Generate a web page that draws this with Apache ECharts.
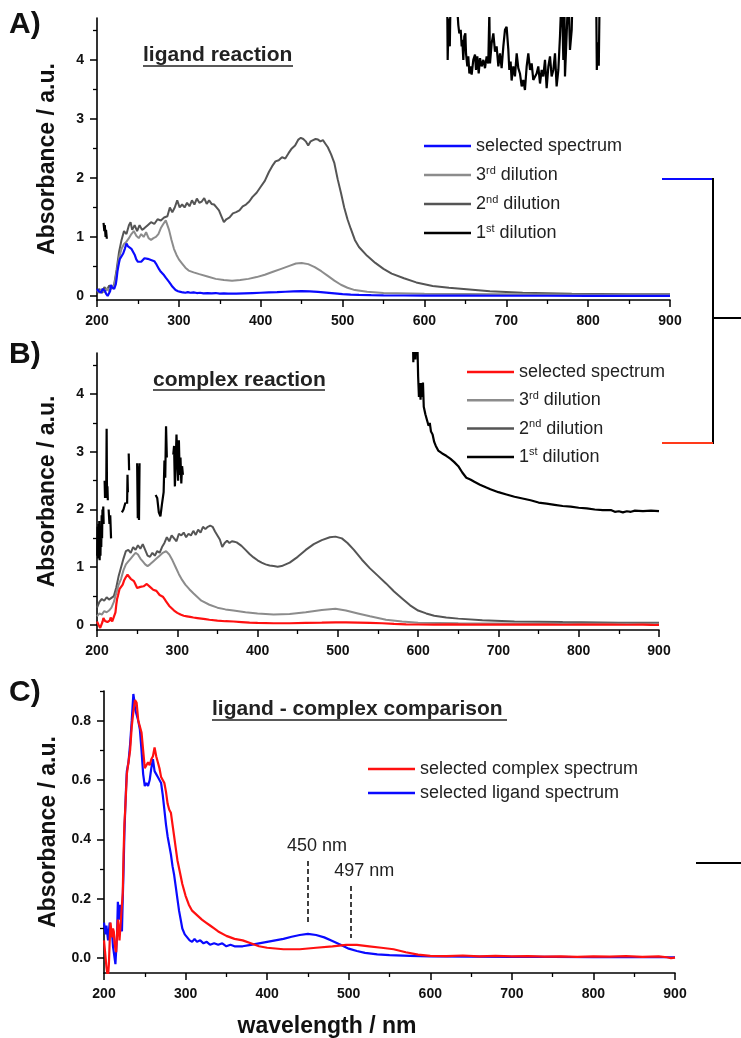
<!DOCTYPE html>
<html><head><meta charset="utf-8">
<script src="https://cdn.jsdelivr.net/npm/echarts@6/dist/echarts.min.js"></script>
<style>html,body{margin:0;padding:0;background:#fff}#c{width:741px;height:1038px}</style>
</head><body><div id="c"></div>
<script>
const FONT = '"Liberation Sans", Arial, Helvetica, sans-serif';

// ---------- data: [wavelength nm, absorbance] ----------
const ligandSel = [[200,0.12],[202,0.08],[203,0.11],[205,0.06],[207,0.12],[208,0.09],[210,0.08],[211,0.04],[213,0.0],[214,-0.02],[215,0.03],[216,0.08],[217,0.19],[218,0.15],[219,0.13],[220,0.18],[221,0.12],[222,0.09],[223,0.2],[224,0.3],[225,0.42],[226,0.5],[227,0.57],[228,0.63],[230,0.66],[232,0.72],[234,0.8],[236,0.89],[237,0.87],[238,0.84],[240,0.84],[242,0.8],[244,0.77],[246,0.7],[248,0.62],[250,0.58],[252,0.59],[254,0.58],[256,0.6],[258,0.64],[260,0.67],[262,0.63],[264,0.62],[266,0.61],[268,0.6],[270,0.59],[272,0.55],[274,0.5],[276,0.45],[278,0.41],[280,0.38],[282,0.35],[284,0.31],[286,0.28],[288,0.24],[290,0.2],[292,0.16],[294,0.13],[296,0.1],[299,0.08],[302,0.07],[305,0.06],[308,0.055],[311,0.065],[314,0.055],[318,0.06],[322,0.05],[326,0.055],[330,0.045],[335,0.05],[340,0.045],[345,0.05],[350,0.04],[355,0.045],[360,0.04],[370,0.04],[380,0.045],[390,0.05],[400,0.055],[410,0.06],[420,0.065],[430,0.072],[440,0.078],[450,0.082],[460,0.078],[470,0.07],[480,0.058],[490,0.045],[500,0.032],[510,0.024],[520,0.018],[535,0.013],[550,0.01],[575,0.008],[600,0.006],[650,0.005],[700,0.004],[750,0.004],[800,0.003],[850,0.003],[900,0.003]];

const complexSel = [[200,0.06],[202,0.0],[203,-0.03],[204,-0.05],[205,-0.06],[206,-0.02],[207,0.06],[208,0.12],[209,0.09],[210,0.07],[211,0.1],[212,0.09],[213,0.05],[214,0.03],[215,0.02],[216,0.08],[217,0.13],[218,0.1],[219,0.06],[220,0.1],[221,0.14],[222,0.18],[223,0.22],[224,0.35],[225,0.45],[226,0.5],[228,0.62],[230,0.66],[232,0.7],[234,0.78],[236,0.83],[238,0.87],[240,0.86],[242,0.8],[244,0.78],[246,0.76],[248,0.7],[250,0.64],[252,0.65],[254,0.66],[256,0.65],[258,0.67],[260,0.68],[262,0.71],[264,0.68],[266,0.66],[268,0.64],[270,0.61],[272,0.6],[274,0.59],[276,0.56],[278,0.52],[280,0.5],[282,0.49],[284,0.45],[286,0.41],[288,0.37],[290,0.33],[293,0.29],[296,0.25],[300,0.21],[304,0.18],[308,0.16],[312,0.15],[316,0.14],[320,0.13],[325,0.12],[330,0.11],[335,0.1],[340,0.09],[350,0.075],[360,0.065],[370,0.06],[380,0.05],[390,0.04],[400,0.035],[420,0.03],[440,0.03],[460,0.035],[480,0.04],[497,0.045],[510,0.045],[525,0.04],[540,0.035],[555,0.03],[570,0.02],[585,0.012],[600,0.008],[620,0.007],[640,0.009],[660,0.006],[680,0.008],[700,0.006],[720,0.007],[740,0.005],[760,0.006],[780,0.004],[800,0.006],[820,0.005],[840,0.007],[860,0.004],[880,0.006],[890,0.003],[895,0.0],[900,0.002]];

const ligand3rd = [[200,0.1],[203,0.05],[206,0.12],[209,0.06],[212,0.13],[215,0.08],[218,0.15],[221,0.18],[224,0.4],[227,0.65],[230,0.8],[233,0.88],[236,0.92],[239,0.98],[242,1.05],[245,1.1],[248,1.02],[251,0.98],[254,1.05],[257,1.0],[260,1.08],[263,0.98],[266,0.95],[269,0.98],[272,1.0],[275,1.05],[278,1.15],[281,1.22],[284,1.28],[286,1.25],[288,1.12],[291,0.95],[294,0.8],[297,0.7],[300,0.62],[304,0.55],[308,0.48],[312,0.43],[318,0.4],[325,0.37],[335,0.33],[345,0.29],[355,0.27],[365,0.26],[375,0.27],[385,0.29],[395,0.32],[405,0.36],[415,0.41],[425,0.46],[435,0.51],[443,0.55],[450,0.56],[458,0.54],[466,0.49],[474,0.42],[482,0.34],[490,0.26],[498,0.19],[506,0.14],[515,0.1],[530,0.07],[550,0.05],[600,0.04],[700,0.03],[800,0.02],[900,0.02]];

const ligand2nd = [[200,0.08],[203,0.12],[206,0.05],[209,0.15],[212,0.1],[215,0.18],[218,0.12],[221,0.2],[224,0.45],[227,0.75],[230,0.95],[233,1.1],[236,1.05],[239,1.2],[241,1.25],[243,1.12],[246,1.2],[249,1.1],[252,1.2],[255,1.12],[258,1.15],[262,1.2],[266,1.25],[270,1.22],[274,1.3],[278,1.28],[282,1.33],[286,1.35],[289,1.5],[292,1.42],[295,1.5],[298,1.62],[301,1.5],[304,1.55],[307,1.5],[310,1.58],[313,1.52],[316,1.62],[319,1.55],[322,1.65],[325,1.58],[328,1.6],[331,1.66],[334,1.56],[337,1.62],[340,1.56],[343,1.55],[346,1.5],[349,1.45],[352,1.35],[355,1.25],[358,1.3],[362,1.33],[366,1.4],[370,1.42],[374,1.45],[378,1.52],[382,1.55],[386,1.6],[390,1.68],[395,1.75],[400,1.85],[405,1.95],[410,2.1],[414,2.2],[418,2.28],[422,2.3],[426,2.35],[430,2.33],[434,2.42],[438,2.5],[442,2.55],[446,2.65],[449,2.68],[452,2.66],[455,2.62],[458,2.55],[461,2.62],[464,2.64],[467,2.66],[470,2.65],[473,2.62],[476,2.64],[479,2.58],[482,2.52],[486,2.4],[490,2.25],[494,1.98],[498,1.75],[502,1.5],[506,1.3],[510,1.14],[515,0.95],[520,0.83],[530,0.68],[540,0.56],[550,0.46],[560,0.38],[575,0.3],[590,0.23],[610,0.17],[630,0.14],[655,0.11],[680,0.08],[720,0.055],[780,0.04],[850,0.03],[900,0.03]];

const ligand1st = [[208,1.24],[209,1.1],[209.5,1.2],[210.5,1.0],[211,1.12],[212,0.97],[213,null],
[230,5.6],[400,5.6],[600,5.6],[627.5,5.6],[628.4,4.0],[629.5,4.7],[631,4.23],[632.5,5.6],[636,5.6],
[638.6,5.2],[641.4,4.59],[642.6,4.45],[644.3,4.51],[645.5,4.23],[646.3,4.34],[647.5,4.0],[648.7,4.4],[650,4.45],[650.8,4.11],[652.4,3.89],[653.6,4.06],[654.9,3.77],[656.5,3.89],[657.7,3.75],[659.7,4.0],[661.8,4.09],[663,3.83],[664.6,4.06],[666.3,3.77],[667.9,4.03],[669.9,3.89],[672,4.0],[674,3.86],[676,4.06],[678,3.94],[679.3,4.8],[680.1,3.94],[682.1,4.28],[684.2,4.45],[686.2,4.14],[688.2,4.23],[690.3,3.89],[692.3,4.11],[694.3,3.86],[696.4,4.23],[698.4,4.51],[700.4,4.56],[702.5,4.17],[703.7,3.83],[705.3,3.97],[706.5,3.65],[708.6,3.89],[710.6,3.72],[712.7,4.11],[714.7,3.86],[716.7,3.77],[718.8,3.55],[720.8,3.66],[722.8,3.49],[724.9,3.89],[726.9,4.11],[729,3.83],[731,3.94],[733,3.66],[735.1,3.63],[737.1,3.77],[739.1,3.89],[741.2,3.6],[743.2,3.83],[745.2,3.72],[747.3,4.0],[749.3,3.52],[751.4,3.89],[753.4,4.06],[755.4,3.72],[757.5,3.83],[759.5,4.11],[761.5,3.55],[763.6,3.83],[765.6,4.4],[767.7,5.2],[769.7,4.0],[770.9,5.2],[771.7,3.72],[773.8,4.45],[775.8,5.2],[777.8,4.17],[779.9,4.51],[781.1,5.2],[790,5.6],[809.5,5.6],[810.6,3.83],[811.8,4.3],[813,3.9],[814.5,5.6],[830,5.6],[900,5.6]];

const complex3rd = [[200,0.15],[203,0.2],[206,0.18],[209,0.24],[212,0.22],[215,0.25],[218,0.3],[221,0.4],[224,0.55],[227,0.7],[230,0.8],[233,0.95],[236,1.05],[239,1.1],[242,1.15],[245,1.2],[248,1.25],[251,1.22],[254,1.15],[257,1.1],[260,1.05],[263,1.02],[266,1.05],[270,1.1],[274,1.15],[278,1.2],[282,1.25],[286,1.28],[290,1.22],[294,1.12],[298,1.0],[302,0.88],[306,0.78],[310,0.7],[315,0.62],[320,0.55],[330,0.42],[340,0.35],[350,0.3],[360,0.27],[370,0.25],[385,0.22],[400,0.2],[420,0.18],[440,0.19],[460,0.22],[480,0.26],[497,0.28],[510,0.25],[525,0.2],[540,0.15],[560,0.09],[580,0.06],[600,0.04],[650,0.03],[750,0.02],[900,0.02]];

const complex2nd = [[200,0.3],[203,0.4],[206,0.45],[209,0.42],[212,0.48],[215,0.44],[218,0.47],[221,0.5],[224,0.65],[227,0.85],[230,1.0],[233,1.15],[236,1.28],[239,1.3],[242,1.25],[245,1.35],[248,1.3],[251,1.38],[254,1.32],[257,1.4],[260,1.3],[263,1.2],[266,1.18],[269,1.25],[272,1.2],[275,1.28],[278,1.25],[281,1.35],[284,1.42],[287,1.52],[290,1.45],[293,1.55],[296,1.5],[299,1.45],[302,1.58],[305,1.55],[308,1.6],[311,1.52],[314,1.58],[317,1.55],[320,1.63],[323,1.56],[326,1.65],[329,1.6],[332,1.7],[335,1.66],[338,1.7],[341,1.72],[344,1.7],[347,1.62],[350,1.55],[353,1.48],[356,1.35],[359,1.42],[362,1.46],[365,1.42],[368,1.45],[371,1.44],[374,1.43],[377,1.4],[380,1.37],[385,1.3],[390,1.23],[395,1.17],[400,1.12],[405,1.08],[410,1.05],[415,1.03],[420,1.02],[425,1.01],[430,1.02],[440,1.08],[450,1.18],[460,1.3],[470,1.4],[480,1.47],[490,1.52],[497,1.53],[505,1.5],[512,1.42],[520,1.3],[530,1.13],[540,0.98],[550,0.85],[560,0.72],[570,0.58],[580,0.46],[590,0.34],[600,0.25],[610,0.2],[620,0.16],[635,0.13],[650,0.11],[680,0.08],[720,0.06],[780,0.05],[850,0.04],[900,0.04]];

const complex1st = [[200.3,1.2],[200.8,1.7],[201.3,1.15],[201.8,1.75],[202.3,1.3],[202.8,1.8],[203.3,1.12],[203.8,1.6],[204.3,1.2],[204.8,1.7],[205.3,1.35],[205.8,1.9],[206.3,1.5],[206.8,2.0],[207.3,1.8],[207.8,2.05],[208.3,1.75],[208.8,null],
[209.5,2.5],[210,2.2],[210.5,2.45],[211,2.2],[211.5,2.3],[212,3.4],[212.5,2.2],[213,2.4],[213.5,2.16],[214,null],
[214.5,2.0],[215.5,1.75],[216.5,1.9],[217.5,1.5],[218,null],
[231,1.95],[233,2.0],[235,2.1],[236,2.12],[237,null],[237.5,2.1],[238,2.6],[238.5,2.3],[239,null],[239.5,2.97],[240,2.68],[240.5,null],
[250,2.8],[250.8,1.85],[251.5,2.75],[252.3,1.82],[253,2.8],[253.5,null],
[273,2.25],[275,2.2],[277,1.95],[279,1.88],[281,2.1],[283,2.3],[284,2.85],[285,2.55],[286,3.44],[287,2.9],[287.5,null],
[295,2.95],[296,3.1],[297,2.4],[298,2.8],[299,3.3],[300,2.9],[301,2.5],[302,3.2],[303,2.6],[304,2.9],[305,2.45],[306,2.75],[307,2.6],[308,null],
[593,5.5],[594,4.55],[595.5,5.5],[596.5,4.6],[598,5.5],[599.5,4.6],[600,4.3],[601,3.95],[602,4.19],[603,3.9],[604,4.19],[605,3.95],[606,4.2],[607,3.78],[609,3.65],[611,3.55],[613,3.45],[614.5,3.5],[616,3.35],[618,3.3],[620,3.17],[622,3.1],[625,3.02],[630,2.97],[635,2.93],[640,2.88],[645,2.82],[650,2.75],[655,2.64],[660,2.55],[665,2.52],[670,2.48],[677,2.43],[685,2.38],[690,2.35],[700,2.3],[710,2.26],[720,2.22],[730,2.19],[740,2.16],[750,2.12],[760,2.1],[770,2.08],[780,2.06],[790,2.05],[800,2.03],[810,2.02],[820,2.0],[830,1.99],[840,1.99],[845,1.96],[850,1.97],[855,1.95],[860,1.97],[865,1.96],[870,1.98],[880,1.97],[890,1.98],[900,1.97]];

// ticks
const yMajorAB = [0,1,2,3,4];
const yMinorAB = [0.5,1.5,2.5,3.5,4.5];
const yMajorC = [0,0.2,0.4,0.6,0.8];
const yMinorC = [0.1,0.3,0.5,0.7,0.9];
const peakMarks = [{nm:450, label:'450 nm', top:0.327, bottom:0.12, pad:18},{nm:503, label:'497 nm', top:0.243, bottom:0.068, pad:26}];

// legend label texts
const legendText = {
  'A sel':'{n|selected spectrum}','A 3rd':'{n|3}{s|rd}{n| dilution}','A 2nd':'{n|2}{s|nd}{n| dilution}','A 1st':'{n|1}{s|st}{n| dilution}',
  'B sel':'{n|selected spectrum}','B 3rd':'{n|3}{s|rd}{n| dilution}','B 2nd':'{n|2}{s|nd}{n| dilution}','B 1st':'{n|1}{s|st}{n| dilution}',
  'C cpx':'{n|selected complex spectrum}','C lig':'{n|selected ligand spectrum}'
};

const BLUE='#0a0aff', RED='#ff1010', G3='#8c8c8c', G2='#555555', G1='#000000';

function xAx(gi, margin){
  return {type:'value', gridIndex:gi, min:200, max:900, interval:100,
    axisLine:{show:true, onZero:false, lineStyle:{color:'#000', width:1.6}},
    axisTick:{show:true, inside:false, length:7, lineStyle:{color:'#000', width:1.5}},
    minorTick:{show:true, splitNumber:2, length:4, lineStyle:{color:'#000', width:1.3}},
    axisLabel:{margin:margin, color:'#111', fontFamily:FONT, fontWeight:'bold', fontSize:14},
    splitLine:{show:false}, minorSplitLine:{show:false}};
}
function yMajor(gi, min, max, major, fmt, nameGap){
  return {type:'value', gridIndex:gi, min, max, position:'left',
    name:'Absorbance / a.u.', nameLocation:'middle', nameGap:nameGap, nameRotate:90,
    nameTextStyle:{fontFamily:FONT, fontWeight:'bold', fontSize:23, color:'#111'},
    axisLine:{show:true, onZero:false, lineStyle:{color:'#000', width:1.6}},
    axisTick:{show:true, inside:false, length:7, customValues:major, lineStyle:{color:'#000', width:1.5}},
    axisLabel:{margin:13, customValues:major, formatter:fmt, color:'#111', fontFamily:FONT, fontWeight:'bold', fontSize:14},
    splitLine:{show:false}};
}
function yMinor(gi, min, max, minor){
  return {type:'value', gridIndex:gi, min, max, position:'left', offset:0,
    axisLine:{show:false}, axisLabel:{show:false}, splitLine:{show:false},
    axisTick:{show:true, inside:false, length:4, customValues:minor, lineStyle:{color:'#000', width:1.3}}};
}
function ser(name, data, color, gi, yi, width, z){
  return {type:'line', name, data, xAxisIndex:gi, yAxisIndex:yi, showSymbol:false, symbol:'none',
    lineStyle:{color, width}, itemStyle:{color}, clip:true, connectNulls:false, animation:false, z, silent:true};
}
function legendCfg(names, left, top, gap){
  return {data:names, orient:'vertical', left, top, itemGap:gap, icon:'rect', itemWidth:47, itemHeight:2.5,
    selectedMode:false, formatter:n=>legendText[n],
    textStyle:{color:'#222', fontFamily:FONT, fontSize:18, lineHeight:20,
      rich:{n:{fontSize:18, lineHeight:20, fontFamily:FONT, color:'#222'}, s:{fontSize:11, lineHeight:12, verticalAlign:'top', fontFamily:FONT, color:'#222'}}}};
}

const cSel = ser('C lig', ligandSel, BLUE, 2, 4, 2.2, 5);
const cCpx = ser('C cpx', complexSel, RED, 2, 4, 2.2, 6);
cCpx.markLine = {silent:true, symbol:['none','none'], animation:false,
  lineStyle:{color:'#111', type:[5,3], width:1.6},
  label:{show:true, position:'start', distance:6, fontFamily:FONT, fontSize:18, color:'#222'},
  data: peakMarks.map(p=>[{coord:[p.nm,p.top], label:{formatter:p.label, padding:[0,0,0,p.pad]}},{coord:[p.nm,p.bottom]}])};

const option = {
  backgroundColor:'#fff',
  animation:false,
  grid:[
    {left:97, top:18, width:573, height:282},
    {left:97, top:353, width:562, height:277},
    {left:104, top:691, width:571, height:282}
  ],
  xAxis:[xAx(0,14), xAx(1,14), xAx(2,14)],
  yAxis:[
    yMajor(0,-0.068,4.71,yMajorAB,v=>String(v),38), yMinor(0,-0.068,4.71,yMinorAB),
    yMajor(1,-0.087,4.71,yMajorAB,v=>String(v),38), yMinor(1,-0.087,4.71,yMinorAB),
    yMajor(2,-0.05,0.9,yMajorC,v=>v.toFixed(1),44), yMinor(2,-0.05,0.9,yMinorC)
  ],
  legend:[
    legendCfg(['A sel','A 3rd','A 2nd','A 1st'], 419, 131, 9),
    legendCfg(['B sel','B 3rd','B 2nd','B 1st'], 462, 357, 8.3),
    legendCfg(['C cpx','C lig'], 363, 754, 4)
  ],
  series:[
    ser('A 1st', ligand1st, G1, 0, 0, 2.2, 1),
    ser('A 2nd', ligand2nd, G2, 0, 0, 2, 2),
    ser('A 3rd', ligand3rd, G3, 0, 0, 2, 3),
    ser('A sel', ligandSel, BLUE, 0, 0, 2.2, 4),
    ser('B 1st', complex1st, G1, 1, 2, 2.2, 1),
    ser('B 2nd', complex2nd, G2, 1, 2, 2, 2),
    ser('B 3rd', complex3rd, G3, 1, 2, 2, 3),
    ser('B sel', complexSel, RED, 1, 2, 2.2, 4),
    cSel, cCpx
  ],
  graphic:[
    {type:'text', x:9, y:25, style:{text:'A)', fontFamily:FONT, fontWeight:'bold', fontSize:30, fill:'#111', align:'left', verticalAlign:'middle', textAlign:'left', textVerticalAlign:'middle'}},
    {type:'text', x:9, y:355, style:{text:'B)', fontFamily:FONT, fontWeight:'bold', fontSize:30, fill:'#111', align:'left', verticalAlign:'middle', textAlign:'left', textVerticalAlign:'middle'}},
    {type:'text', x:9, y:693, style:{text:'C)', fontFamily:FONT, fontWeight:'bold', fontSize:30, fill:'#111', align:'left', verticalAlign:'middle', textAlign:'left', textVerticalAlign:'middle'}},
    {type:'text', x:143, y:55, style:{text:'ligand reaction', fontFamily:FONT, fontWeight:'bold', fontSize:21, fill:'#222', align:'left', verticalAlign:'middle', textAlign:'left', textVerticalAlign:'middle'}},
    {type:'line', shape:{x1:143, y1:66, x2:293, y2:66}, style:{stroke:'#222', lineWidth:1.5}},
    {type:'text', x:153, y:380, style:{text:'complex reaction', fontFamily:FONT, fontWeight:'bold', fontSize:21, fill:'#222', align:'left', verticalAlign:'middle', textAlign:'left', textVerticalAlign:'middle'}},
    {type:'line', shape:{x1:153, y1:390, x2:325, y2:390}, style:{stroke:'#222', lineWidth:1.5}},
    {type:'text', x:212, y:709, style:{text:'ligand - complex comparison', fontFamily:FONT, fontWeight:'bold', fontSize:21, fill:'#222', align:'left', verticalAlign:'middle', textAlign:'left', textVerticalAlign:'middle'}},
    {type:'line', shape:{x1:212, y1:720, x2:507, y2:720}, style:{stroke:'#222', lineWidth:1.5}},
    {type:'text', x:327, y:1027, style:{text:'wavelength / nm', fontFamily:FONT, fontWeight:'bold', fontSize:23, fill:'#111', align:'center', verticalAlign:'middle', textAlign:'center', textVerticalAlign:'middle'}},
    {type:'line', shape:{x1:662, y1:179, x2:713, y2:179}, style:{stroke:BLUE, lineWidth:2}},
    {type:'line', shape:{x1:713, y1:178, x2:713, y2:444}, style:{stroke:'#000', lineWidth:2}},
    {type:'line', shape:{x1:662, y1:443, x2:713, y2:443}, style:{stroke:'#ff3a1a', lineWidth:2}},
    {type:'line', shape:{x1:713, y1:318, x2:741, y2:318}, style:{stroke:'#000', lineWidth:2}},
    {type:'line', shape:{x1:696, y1:863, x2:741, y2:863}, style:{stroke:'#000', lineWidth:2}}
  ]
};
const chart = echarts.init(document.getElementById('c'), null, {renderer:'canvas'});
chart.setOption(option);
</script>
</body></html>
